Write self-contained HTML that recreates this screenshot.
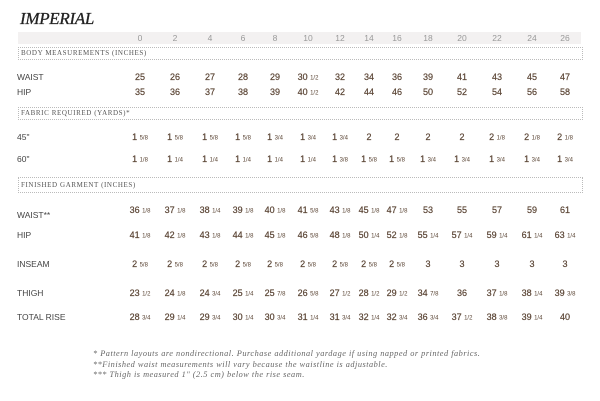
<!DOCTYPE html>
<html><head><meta charset="utf-8"><style>
body{margin:0;width:600px;height:401px;background:#fff;position:relative;overflow:hidden;font-family:"Liberation Sans",sans-serif}
.t{position:absolute;left:20px;top:9px;font-family:"Liberation Serif",serif;font-style:italic;font-size:17px;color:#222;letter-spacing:-0.3px;-webkit-text-stroke:0.3px #222}
.band{position:absolute;left:18px;width:563px;top:32px;height:12px;background:#f3f1f1}
.box{position:absolute;left:18px;width:561px;height:11px;border:1px dotted #bbb;font-family:"Liberation Serif",serif;font-size:7px;color:#555;letter-spacing:0.6px;line-height:11px;padding-left:2px}
.r{position:absolute;left:0;width:600px;height:12px}
.r span{position:absolute;width:44px;margin-left:-22px;text-align:center;font-size:9px;color:#5a4434;line-height:12px;white-space:nowrap;-webkit-text-stroke:0.2px #5a4434}
.r span i{font-style:normal;font-size:6px;vertical-align:0.5px;-webkit-text-stroke:0}
.r b{position:absolute;left:17px;font-weight:normal;font-size:8.5px;color:#444;line-height:12px}
.h span{color:#999;font-size:8.5px;-webkit-text-stroke:0}
.fn{position:absolute;left:93px;font-family:"Liberation Serif",serif;font-style:italic;font-size:8.3px;color:#666;letter-spacing:0.5px;line-height:10.5px}
</style></head><body>
<div class="t">IMPERIAL</div>
<div class="band"></div>
<div class="r h" style="top:32px"><span style="left:140px">0</span><span style="left:175px">2</span><span style="left:210px">4</span><span style="left:243px">6</span><span style="left:275px">8</span><span style="left:308px">10</span><span style="left:340px">12</span><span style="left:369px">14</span><span style="left:397px">16</span><span style="left:428px">18</span><span style="left:462px">20</span><span style="left:497px">22</span><span style="left:532px">24</span><span style="left:565px">26</span></div>
<div class="box" style="top:47px">BODY MEASUREMENTS (INCHES)</div>
<div class="r" style="top:71px"><b>WAIST</b><span style="left:140px">25</span><span style="left:175px">26</span><span style="left:210px">27</span><span style="left:243px">28</span><span style="left:275px">29</span><span style="left:308px">30 <i>1/2</i></span><span style="left:340px">32</span><span style="left:369px">34</span><span style="left:397px">36</span><span style="left:428px">39</span><span style="left:462px">41</span><span style="left:497px">43</span><span style="left:532px">45</span><span style="left:565px">47</span></div>
<div class="r" style="top:86px"><b>HIP</b><span style="left:140px">35</span><span style="left:175px">36</span><span style="left:210px">37</span><span style="left:243px">38</span><span style="left:275px">39</span><span style="left:308px">40 <i>1/2</i></span><span style="left:340px">42</span><span style="left:369px">44</span><span style="left:397px">46</span><span style="left:428px">50</span><span style="left:462px">52</span><span style="left:497px">54</span><span style="left:532px">56</span><span style="left:565px">58</span></div>
<div class="box" style="top:107px">FABRIC REQUIRED (YARDS)*</div>
<div class="r" style="top:131px"><b>45"</b><span style="left:140px">1 <i>5/8</i></span><span style="left:175px">1 <i>5/8</i></span><span style="left:210px">1 <i>5/8</i></span><span style="left:243px">1 <i>5/8</i></span><span style="left:275px">1 <i>3/4</i></span><span style="left:308px">1 <i>3/4</i></span><span style="left:340px">1 <i>3/4</i></span><span style="left:369px">2</span><span style="left:397px">2</span><span style="left:428px">2</span><span style="left:462px">2</span><span style="left:497px">2 <i>1/8</i></span><span style="left:532px">2 <i>1/8</i></span><span style="left:565px">2 <i>1/8</i></span></div>
<div class="r" style="top:153px"><b>60"</b><span style="left:140px">1 <i>1/8</i></span><span style="left:175px">1 <i>1/4</i></span><span style="left:210px">1 <i>1/4</i></span><span style="left:243px">1 <i>1/4</i></span><span style="left:275px">1 <i>1/4</i></span><span style="left:308px">1 <i>1/4</i></span><span style="left:340px">1 <i>3/8</i></span><span style="left:369px">1 <i>5/8</i></span><span style="left:397px">1 <i>5/8</i></span><span style="left:428px">1 <i>3/4</i></span><span style="left:462px">1 <i>3/4</i></span><span style="left:497px">1 <i>3/4</i></span><span style="left:532px">1 <i>3/4</i></span><span style="left:565px">1 <i>3/4</i></span></div>
<div class="box" style="top:177px;height:14px;line-height:14px">FINISHED GARMENT (INCHES)</div>
<div class="r" style="top:204px"><b style="top:5px">WAIST**</b><span style="left:140px">36 <i>1/8</i></span><span style="left:175px">37 <i>1/8</i></span><span style="left:210px">38 <i>1/4</i></span><span style="left:243px">39 <i>1/8</i></span><span style="left:275px">40 <i>1/8</i></span><span style="left:308px">41 <i>5/8</i></span><span style="left:340px">43 <i>1/8</i></span><span style="left:369px">45 <i>1/8</i></span><span style="left:397px">47 <i>1/8</i></span><span style="left:428px">53</span><span style="left:462px">55</span><span style="left:497px">57</span><span style="left:532px">59</span><span style="left:565px">61</span></div>
<div class="r" style="top:229px"><b>HIP</b><span style="left:140px">41 <i>1/8</i></span><span style="left:175px">42 <i>1/8</i></span><span style="left:210px">43 <i>1/8</i></span><span style="left:243px">44 <i>1/8</i></span><span style="left:275px">45 <i>1/8</i></span><span style="left:308px">46 <i>5/8</i></span><span style="left:340px">48 <i>1/8</i></span><span style="left:369px">50 <i>1/4</i></span><span style="left:397px">52 <i>1/8</i></span><span style="left:428px">55 <i>1/4</i></span><span style="left:462px">57 <i>1/4</i></span><span style="left:497px">59 <i>1/4</i></span><span style="left:532px">61 <i>1/4</i></span><span style="left:565px">63 <i>1/4</i></span></div>
<div class="r" style="top:258px"><b>INSEAM</b><span style="left:140px">2 <i>5/8</i></span><span style="left:175px">2 <i>5/8</i></span><span style="left:210px">2 <i>5/8</i></span><span style="left:243px">2 <i>5/8</i></span><span style="left:275px">2 <i>5/8</i></span><span style="left:308px">2 <i>5/8</i></span><span style="left:340px">2 <i>5/8</i></span><span style="left:369px">2 <i>5/8</i></span><span style="left:397px">2 <i>5/8</i></span><span style="left:428px">3</span><span style="left:462px">3</span><span style="left:497px">3</span><span style="left:532px">3</span><span style="left:565px">3</span></div>
<div class="r" style="top:287px"><b>THIGH</b><span style="left:140px">23 <i>1/2</i></span><span style="left:175px">24 <i>1/8</i></span><span style="left:210px">24 <i>3/4</i></span><span style="left:243px">25 <i>1/4</i></span><span style="left:275px">25 <i>7/8</i></span><span style="left:308px">26 <i>5/8</i></span><span style="left:340px">27 <i>1/2</i></span><span style="left:369px">28 <i>1/2</i></span><span style="left:397px">29 <i>1/2</i></span><span style="left:428px">34 <i>7/8</i></span><span style="left:462px">36</span><span style="left:497px">37 <i>1/8</i></span><span style="left:532px">38 <i>1/4</i></span><span style="left:565px">39 <i>3/8</i></span></div>
<div class="r" style="top:311px"><b>TOTAL RISE</b><span style="left:140px">28 <i>3/4</i></span><span style="left:175px">29 <i>1/4</i></span><span style="left:210px">29 <i>3/4</i></span><span style="left:243px">30 <i>1/4</i></span><span style="left:275px">30 <i>3/4</i></span><span style="left:308px">31 <i>1/4</i></span><span style="left:340px">31 <i>3/4</i></span><span style="left:369px">32 <i>1/4</i></span><span style="left:397px">32 <i>3/4</i></span><span style="left:428px">36 <i>3/4</i></span><span style="left:462px">37 <i>1/2</i></span><span style="left:497px">38 <i>3/8</i></span><span style="left:532px">39 <i>1/4</i></span><span style="left:565px">40</span></div>
<div class="fn" style="top:349px">* Pattern layouts are nondirectional. Purchase additional yardage if using napped or printed fabrics.<br>**Finished waist measurements will vary because the waistline is adjustable.<br>*** Thigh is measured 1" (2.5 cm) below the rise seam.</div>
</body></html>
